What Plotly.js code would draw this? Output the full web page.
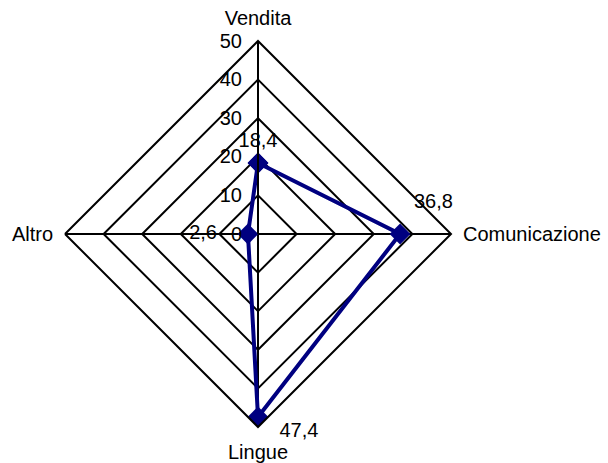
<!DOCTYPE html>
<html>
<head>
<meta charset="utf-8">
<script src="https://cdn.plot.ly/plotly-3.0.1.min.js"></script>
<style>html,body{margin:0;padding:0;background:#fff;}#chart{width:608px;height:463px;}</style>
</head>
<body>
<div id="chart"></div>
<script>
var categories = ["Vendita", "Comunicazione", "Lingue", "Altro"];
var values = [18.4, 36.8, 47.4, 2.6];
var radialTicks = [0, 10, 20, 30, 40, 50];
var radialTickLabels = ["0", "10", "20", "30", "40", "50"];

var navy = "#000080";
var font = "Liberation Sans, Arial, sans-serif";
var pad = "\u00a0";

var lineTrace = {
  type: "scatterpolar",
  r: values.concat([values[0]]),
  theta: categories.concat([categories[0]]),
  mode: "lines+markers",
  line: {color: navy, width: 4},
  marker: {symbol: "diamond", size: 16, color: navy, line: {width: 0}},
  hoverinfo: "skip",
  showlegend: false
};

var labelTrace = {
  type: "scatterpolar",
  r: values,
  theta: categories,
  mode: "markers+text",
  marker: {size: [16, 32, 6, 48], color: "#fff", opacity: 0, line: {width: 0}},
  texttemplate: ["%{r:.1f}", pad.repeat(12) + "%{r:.1f}", pad.repeat(3) + "%{r:.1f}", "%{r:.1f}"],
  textposition: ["top center", "top center", "bottom right", "middle left"],
  textfont: {family: font, size: 20, color: "#000"},
  hoverinfo: "skip",
  showlegend: false
};

var layout = {
  width: 608,
  height: 463,
  margin: {l: 0, r: 0, t: 0, b: 0},
  paper_bgcolor: "#fff",
  separators: ",.",
  font: {family: font, size: 20, color: "#000"},
  showlegend: false,
  polar: {
    domain: {x: [65/608, 451/608], y: [36/463, 422/463]},
    bgcolor: "#fff",
    gridshape: "linear",
    radialaxis: {
      range: [0, 50],
      tickvals: radialTicks,
      ticktext: radialTickLabels,
      angle: 90,
      tickangle: 90,
      side: "counterclockwise",
      showline: true,
      linecolor: "#000",
      linewidth: 2,
      gridcolor: "#000",
      gridwidth: 2,
      ticks: "outside",
      ticklen: 8,
      tickcolor: "rgba(0,0,0,0)",
      tickfont: {family: font, size: 20, color: "#000"}
    },
    angularaxis: {
      type: "category",
      categoryarray: categories,
      rotation: 90,
      direction: "clockwise",
      showline: true,
      linecolor: "#000",
      linewidth: 2,
      gridcolor: "#000",
      gridwidth: 2,
      ticks: "outside",
      ticklen: 7,
      tickcolor: "rgba(0,0,0,0)",
      tickfont: {family: font, size: 20, color: "#000"}
    }
  }
};

Plotly.newPlot("chart", [lineTrace, labelTrace], layout, {displayModeBar: false, staticPlot: true});
</script>
</body>
</html>
